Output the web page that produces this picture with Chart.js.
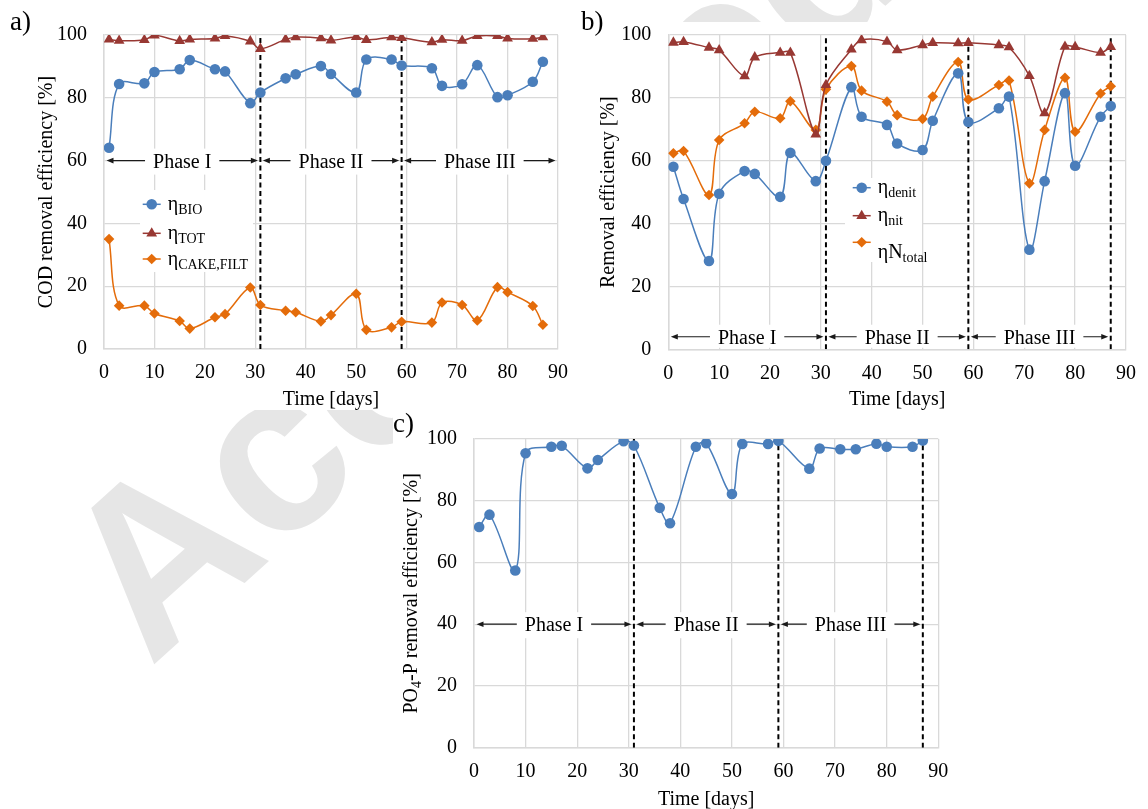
<!DOCTYPE html>
<html>
<head>
<meta charset="utf-8">
<script src="https://cdn.jsdelivr.net/npm/chart.js@4.4.0/dist/chart.umd.min.js"></script>
<style>
  body { margin: 0; background: #fff; width: 1148px; height: 809px; overflow: hidden; position: relative; }
  canvas { position: absolute; }
</style>
</head>
<body>
<canvas id="wm" width="1148" height="809" style="left:0px;top:0px"></canvas>
<canvas id="chartA" width="580" height="410" style="left:0px;top:0px"></canvas>
<canvas id="chartB" width="568" height="410" style="left:580px;top:0px"></canvas>
<canvas id="chartC" width="580" height="399" style="left:390px;top:410px"></canvas>
<script>
// sampling days (same for all three panels)
const days = [1, 3, 8, 10, 15, 17, 22, 24, 29, 31, 36, 38, 43, 45, 50, 52, 57, 59, 65, 67, 71, 74, 78, 80, 85, 87];

// a) COD removal efficiency [%]
const etaBio  = [64.1, 84.4, 84.6, 88.2, 89.1, 92.0, 89.1, 88.4, 78.3, 81.7, 86.2, 87.5, 90.1, 87.6, 81.7, 92.2, 92.2, 90.3, 89.4, 83.8, 84.3, 90.4, 80.2, 80.8, 85.1, 91.5];
const etaTot  = [98.6, 98.2, 98.4, 99.9, 98.1, 98.6, 98.9, 99.7, 98.0, 95.6, 98.6, 99.3, 99.0, 98.3, 99.4, 98.4, 99.3, 99.1, 97.7, 98.5, 98.2, 99.7, 99.7, 98.9, 98.8, 99.3];
const etaCake = [35.0, 13.8, 13.8, 11.3, 8.9, 6.5, 10.1, 11.1, 19.6, 14.0, 12.2, 11.7, 8.8, 10.8, 17.6, 6.1, 6.9, 8.7, 8.4, 14.8, 14.0, 9.1, 19.7, 18.1, 13.7, 7.7];

// b) nitrogen removal efficiency [%]
const etaDenit  = [58.1, 47.8, 28.1, 49.5, 56.7, 55.8, 48.5, 62.5, 53.5, 60.0, 83.4, 74.0, 71.4, 65.5, 63.4, 72.7, 87.8, 72.3, 76.7, 80.4, 31.7, 53.5, 81.5, 58.4, 74.0, 77.4];
const etaNit    = [97.6, 97.8, 96.0, 95.2, 86.9, 92.9, 94.4, 94.4, 68.4, 84.1, 95.4, 98.4, 97.9, 95.2, 96.8, 97.5, 97.4, 97.5, 96.8, 96.1, 87.0, 75.1, 96.3, 96.2, 94.4, 96.2];
const etaNtotal = [62.4, 63.1, 49.1, 66.6, 71.9, 75.6, 73.5, 78.9, 69.8, 82.7, 90.1, 82.3, 78.8, 74.5, 73.3, 80.4, 91.4, 79.5, 84.1, 85.5, 52.8, 69.8, 86.4, 69.2, 81.4, 83.7];

// c) PO4-P removal efficiency [%]
const etaPO4 = [71.5, 75.5, 57.4, 95.4, 97.5, 97.8, 90.5, 93.2, 99.3, 97.9, 77.7, 72.7, 97.5, 98.6, 82.2, 98.4, 98.4, 99.4, 90.4, 96.9, 96.7, 96.7, 98.5, 97.5, 97.5, 99.5];

// phases
const phaseNames = ['Phase I', 'Phase II', 'Phase III'];
const phaseEdgesA = [0, 31, 59, 90];
const phaseEdgesBC = [0, 31, 59, 87];
const dashedA = [31, 59];
const dashedBC = [31, 59, 87];

const watermarkText = 'Accepted Article';

const TF = '"Liberation Serif", "Times New Roman", serif';
const GRID = '#d9d9d9';
const BLUE = '#4a7ebb', RED = '#983833', ORANGE = '#e46c0a';

// faint watermark behind the panels
(function () {
  const c = document.getElementById('wm').getContext('2d');
  c.save();
  c.translate(150, 668);
  c.rotate(-42 * Math.PI / 180);
  c.font = 'bold 230px "Liberation Sans", Arial, sans-serif';
  c.fillStyle = '#e6e6e6';
  c.fillText(watermarkText, 0, 0);
  c.restore();
})();

function series(values, color, style, radius) {
  return {
    data: days.map((d, i) => ({ x: d, y: values[i] })),
    borderColor: color, backgroundColor: color,
    pointBackgroundColor: color, pointBorderColor: color, pointBorderWidth: 0,
    pointStyle: style, pointRadius: radius,
    borderWidth: 1.5, tension: 0.35, showLine: true, order: 1
  };
}
function dashed(xv) {
  return {
    data: [{ x: xv, y: 0 }, { x: xv, y: 100 }],
    borderColor: '#000', borderWidth: 2, borderDash: [5, 3.5],
    pointRadius: 0, tension: 0, showLine: true, order: 5
  };
}

function drawMarker(ctx, style, x, y, color) {
  ctx.fillStyle = color;
  ctx.beginPath();
  if (style === 'circle') {
    ctx.arc(x, y, 5.3, 0, Math.PI * 2);
  } else if (style === 'triangle') {
    ctx.moveTo(x, y - 6); ctx.lineTo(x + 5.4, y + 3.2); ctx.lineTo(x - 5.4, y + 3.2);
  } else {
    ctx.moveTo(x, y - 5.3); ctx.lineTo(x + 5.3, y); ctx.lineTo(x, y + 5.3); ctx.lineTo(x - 5.3, y);
  }
  ctx.closePath();
  ctx.fill();
}

// draw text made of [string, isSubscript] parts, baseline at y
function drawRich(ctx, parts, x, y, align) {
  const main = '20px ' + TF, sub = '14px ' + TF;
  let w = 0;
  parts.forEach(p => { ctx.font = p[1] ? sub : main; w += ctx.measureText(p[0]).width; });
  let cx = align === 'center' ? x - w / 2 : x;
  ctx.textAlign = 'left';
  ctx.textBaseline = 'alphabetic';
  parts.forEach(p => {
    ctx.font = p[1] ? sub : main;
    ctx.fillText(p[0], cx, y + (p[1] ? 4 : 0));
    cx += ctx.measureText(p[0]).width;
  });
}

function arrowHead(ctx, x, y, dir) {
  ctx.beginPath();
  ctx.moveTo(x, y);
  ctx.lineTo(x - dir * 7, y - 2.8);
  ctx.lineTo(x - dir * 7, y + 2.8);
  ctx.closePath();
  ctx.fill();
}

const overlay = {
  id: 'overlay',
  beforeDraw(chart, args, o) {
    const { ctx, width, height } = chart;
    ctx.save();
    ctx.fillStyle = '#fff';
    ctx.fillRect(o.bg[0], o.bg[1], width - o.bg[0], height - o.bg[1]);
    ctx.restore();
  },
  afterDatasetsDraw(chart, args, o) {
    const { ctx, chartArea: ca } = chart;
    const { x, y } = chart.scales;
    ctx.save();
    // phase arrows
    const py = y.getPixelForValue(o.phaseY);
    for (let i = 0; i < phaseNames.length; i++) {
      const x0 = x.getPixelForValue(o.edges[i]) + 2.5;
      const x1 = x.getPixelForValue(o.edges[i + 1]) - 2.5;
      const cx = (x0 + x1) / 2;
      ctx.font = '20px ' + TF;
      const w = ctx.measureText(phaseNames[i]).width;
      ctx.strokeStyle = '#1a1a1a';
      ctx.fillStyle = '#1a1a1a';
      ctx.lineWidth = 1.2;
      ctx.beginPath(); ctx.moveTo(x0 + 5, py); ctx.lineTo(x1 - 5, py); ctx.stroke();
      arrowHead(ctx, x0, py, -1);
      arrowHead(ctx, x1, py, 1);
      ctx.save();
      ctx.beginPath(); ctx.rect(ca.left + 1, ca.top, ca.width - 2, ca.height - 1.5); ctx.clip();
      ctx.fillStyle = '#fff';
      ctx.fillRect(cx - w / 2 - 8, py - 12, w + 16, 26);
      ctx.restore();
      ctx.fillStyle = '#000';
      ctx.textAlign = 'center'; ctx.textBaseline = 'alphabetic';
      ctx.fillText(phaseNames[i], cx, py + 7);
    }
    // legend
    if (o.legend) {
      const L = o.legend;
      ctx.fillStyle = '#fff';
      ctx.fillRect(L.box[0], L.box[1], L.box[2], L.box[3]);
      L.items.forEach((it, i) => {
        const my = L.ys[i];
        ctx.strokeStyle = it.color; ctx.lineWidth = 1.5;
        ctx.beginPath(); ctx.moveTo(L.x - 9, my); ctx.lineTo(L.x + 9, my); ctx.stroke();
        drawMarker(ctx, it.style, L.x, my, it.color);
        ctx.fillStyle = '#000';
        drawRich(ctx, it.text, L.x + 16, my + it.dy, 'left');
      });
    }
    ctx.restore();
  },
  afterDraw(chart, args, o) {
    const { ctx, chartArea: ca } = chart;
    ctx.save();
    ctx.fillStyle = '#000';
    // panel letter
    ctx.font = '27px ' + TF;
    ctx.textAlign = 'left'; ctx.textBaseline = 'alphabetic';
    ctx.fillText(o.letter, o.letterPos[0], o.letterPos[1]);
    // x title
    drawRich(ctx, [['Time [days]', false]], (ca.left + ca.right) / 2, o.xTitleY + 7, 'center');
    // y title
    ctx.translate(o.yTitleX, (ca.top + ca.bottom) / 2);
    ctx.rotate(-Math.PI / 2);
    drawRich(ctx, o.yTitle, 0, 7, 'center');
    ctx.restore();
  }
};

function makeChart(id, datasets, area, ov) {
  const cv = document.getElementById(id);
  const W = cv.width, H = cv.height;
  const tickFont = { family: TF, size: 20 };
  return new Chart(cv, {
    type: 'scatter',
    data: { datasets: datasets },
    options: {
      responsive: false, animation: false, devicePixelRatio: 1,
      layout: { padding: { left: 0, top: area.top, right: W - area.right, bottom: 0 } },
      plugins: { legend: { display: false }, tooltip: { enabled: false }, overlay: ov },
      scales: {
        x: {
          type: 'linear', min: 0, max: 90,
          afterFit(s) { s.height = H - area.bottom; },
          ticks: { stepSize: 10, padding: 12, color: '#000', font: tickFont, maxRotation: 0, autoSkip: false },
          grid: { color: GRID, lineWidth: 1.3, drawTicks: false },
          border: { color: GRID, width: 1.5 }
        },
        y: {
          min: 0, max: 100,
          afterFit(s) { s.width = area.left; },
          ticks: { stepSize: 20, padding: 17, color: '#000', font: tickFont },
          grid: { color: GRID, lineWidth: 1.3, drawTicks: false },
          border: { color: GRID, width: 1.5 }
        }
      }
    },
    plugins: [overlay]
  });
}

// a)
makeChart('chartA',
  [series(etaBio, BLUE, 'circle', 5.3), series(etaTot, RED, 'triangle', 6.2), series(etaCake, ORANGE, 'rectRot', 5.3)]
    .concat(dashedA.map(dashed)),
  { left: 104, right: 569, top: 35, bottom: 349 },
  {
    bg: [0, 22],
    edges: phaseEdgesA, phaseY: 60, letter: 'a)', letterPos: [10, 30],
    xTitleY: 398, yTitleX: 45,
    yTitle: [['COD removal efficiency [%]', false]],
    legend: {
      box: [140, 190, 113, 82], x: 151.7, ys: [204.3, 233.3, 259],
      items: [
        { color: BLUE, style: 'circle', text: [['η', false], ['BIO', true]], dy: 6 },
        { color: RED, style: 'triangle', text: [['η', false], ['TOT', true]], dy: 6 },
        { color: ORANGE, style: 'diamond', text: [['η', false], ['CAKE,FILT', true]], dy: 6 }
      ]
    }
  });

// b)
makeChart('chartB',
  [series(etaDenit, BLUE, 'circle', 5.3), series(etaNit, RED, 'triangle', 6.2), series(etaNtotal, ORANGE, 'rectRot', 5.3)]
    .concat(dashedBC.map(dashed)),
  { left: 88.3, right: 552.7, top: 35, bottom: 349.3 },
  {
    bg: [0, 22],
    edges: phaseEdgesBC, phaseY: 4, letter: 'b)', letterPos: [1, 30],
    xTitleY: 398, yTitleX: 27,
    yTitle: [['Removal efficiency [%]', false]],
    legend: {
      box: [265, 178, 77, 84], x: 281.7, ys: [187.7, 215.7, 242.3],
      items: [
        { color: BLUE, style: 'circle', text: [['η', false], ['denit', true]], dy: 5 },
        { color: RED, style: 'triangle', text: [['η', false], ['nit', true]], dy: 5 },
        { color: ORANGE, style: 'diamond', text: [['ηN', false], ['total', true]], dy: 16 }
      ]
    }
  });

// c)
makeChart('chartC',
  [series(etaPO4, BLUE, 'circle', 5.3)].concat(dashedBC.map(dashed)),
  { left: 84, right: 548.3, top: 24, bottom: 337.7 },
  {
    bg: [3, 0],
    edges: phaseEdgesBC, phaseY: 40, letter: 'c)', letterPos: [3, 22],
    xTitleY: 388, yTitleX: 20,
    yTitle: [['PO', false], ['4', true], ['-P removal efficiency [%]', false]]
  });
</script>
</body>
</html>
